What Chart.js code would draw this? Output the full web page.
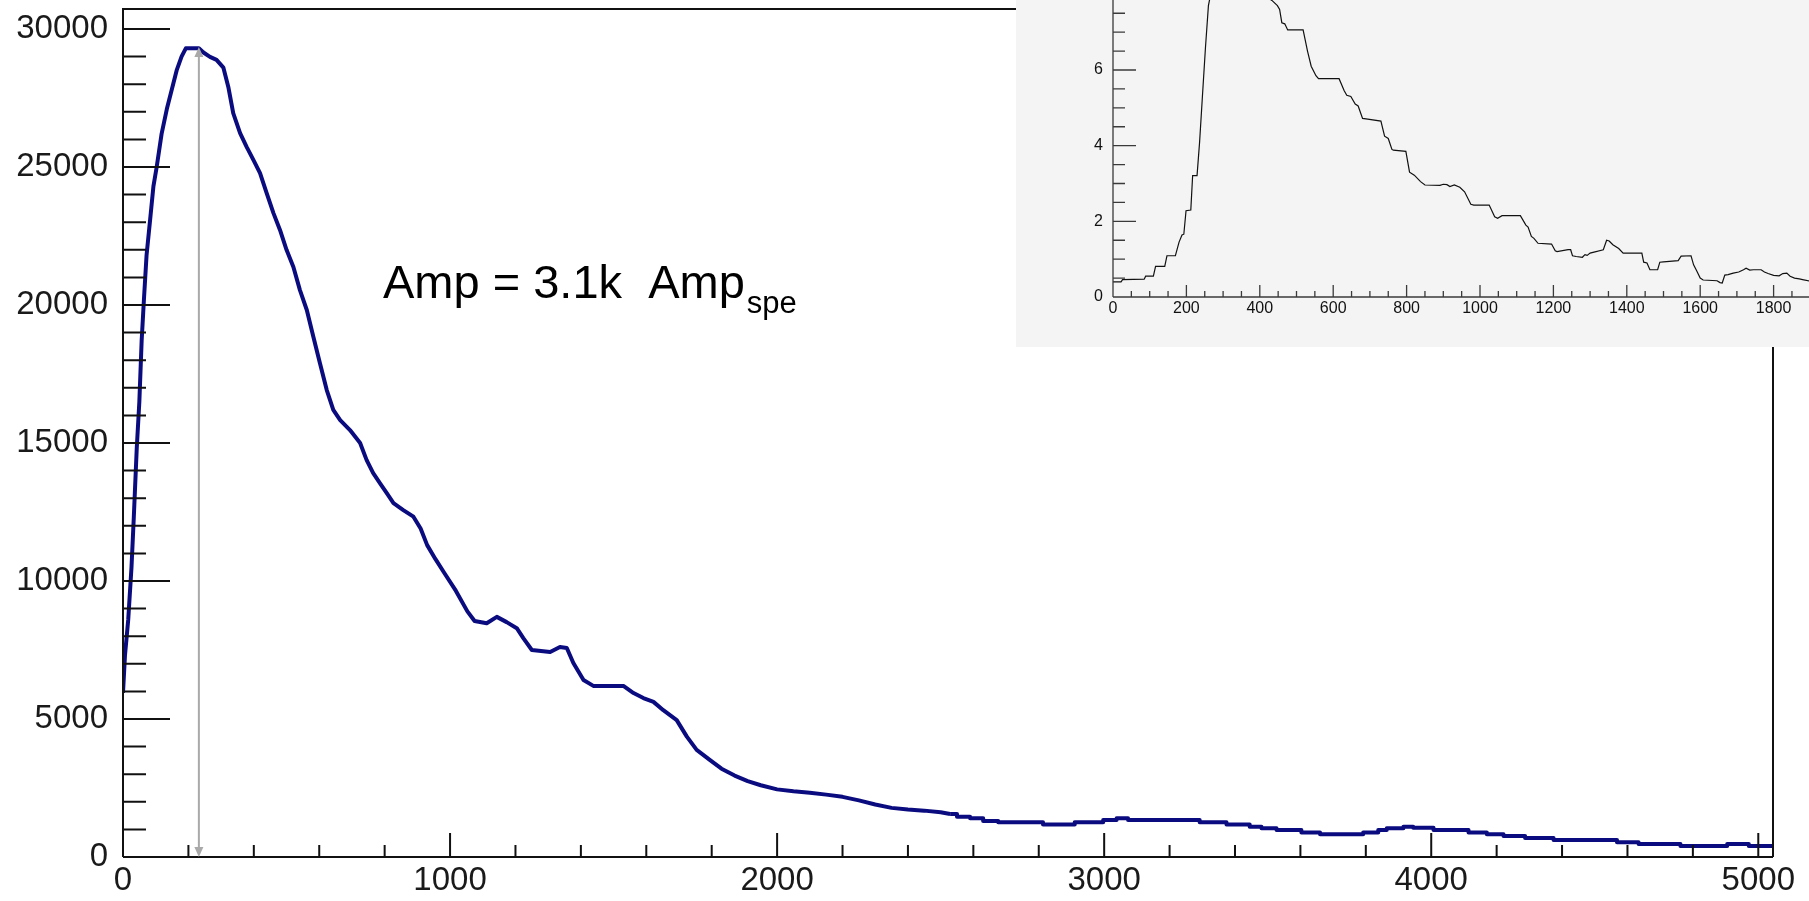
<!DOCTYPE html>
<html>
<head>
<meta charset="utf-8">
<script src="https://cdn.jsdelivr.net/npm/chart.js@4.4.1/dist/chart.umd.min.js"></script>
<style>
html,body{margin:0;padding:0;background:#fff;overflow:hidden;width:1809px;height:901px;}
#main{position:absolute;left:0;top:0;}
#insetBox{position:absolute;left:1016px;top:0;width:793px;height:347px;background:#f4f4f4;overflow:hidden;}
#inset{position:absolute;left:0;top:-40px;}
</style>
</head>
<body>
<canvas id="main" width="1809" height="901"></canvas>
<div id="insetBox"><canvas id="inset" width="851" height="387"></canvas></div>
<script>
// ---------- data: main spectrum (peak region, drawn as a polyline) ----------
const mainPeakX = [0,6,16,26,33,42,50,57,64,72,83,93,103,118,134,149,164,179,192,232,246,266,286,307,322,337,358,378,399,419,439,460,480,500,521,541,562,582,602,623,643,664,694,725,745,765,786,806,827,857,888,910,930,955,982,1018,1053,1075,1112,1143,1173,1204,1224,1250,1306,1336,1357,1377,1408,1438,1530,1561,1591,1622,1652,1693,1724,1754,1795,1830,1870,1910,1950,2000,2050,2100,2150,2200,2250,2300,2350,2400,2450,2500,2529];
const mainPeakY = [5950,7300,8600,10500,12300,14800,16500,18700,20200,21800,23100,24300,25000,26200,27100,27800,28500,29000,29300,29300,29150,28990,28880,28600,27900,26950,26230,25730,25250,24780,24060,23330,22720,22000,21380,20540,19820,18850,17900,16920,16200,15830,15470,15000,14380,13910,13540,13190,12820,12570,12330,11900,11300,10800,10300,9640,8900,8550,8470,8700,8510,8290,7930,7500,7430,7610,7570,7030,6410,6200,6200,5940,5760,5620,5320,4960,4360,3880,3510,3200,2950,2750,2600,2450,2380,2330,2260,2180,2050,1900,1780,1720,1680,1620,1560];
// ---------- data: main spectrum tail (drawn as histogram steps) ----------
const mainTailX = [2529,2550,2590,2630,2676,2813,2910,2997,3038,3073,3292,3374,3445,3481,3527,3603,3660,3792,3838,3864,3915,3945,4007,4114,4170,4221,4287,4374,4568,4634,4762,4905,4971,5045];
const mainTailY = [1560,1460,1400,1300,1260,1180,1260,1340,1400,1340,1260,1180,1100,1040,980,890,820,890,980,1040,1100,1060,980,890,820,760,690,620,530,470,400,470,400,400];
const mainXTicks = [0,1000,2000,3000,4000,5000];
const mainYTicks = [0,5000,10000,15000,20000,25000,30000];
const peakX = 232;
const peakY = 29350;
const annotationMain = 'Amp = 3.1k  Amp';
const annotationSub = 'spe';

// ---------- data: inset waveform ----------
const insetX = [0,22,26,85,89,110,116,141,147,170,180,188,193,199,212,217,229,236,243,252,260,266,300,360,420,433,448,454,460,468,476,518,530,540,553,560,616,630,637,648,660,668,680,694,730,740,750,760,764,798,808,821,838,850,891,900,910,918,930,945,958,975,983,1025,1040,1048,1060,1110,1125,1131,1140,1147,1158,1195,1205,1210,1240,1247,1252,1262,1279,1286,1292,1300,1336,1345,1352,1362,1378,1390,1441,1446,1455,1463,1484,1490,1500,1540,1548,1575,1582,1590,1600,1608,1646,1654,1660,1667,1676,1690,1705,1718,1725,1735,1745,1766,1775,1785,1800,1815,1825,1836,1845,1857,1870,1879,1904,1950,2000];
const insetY = [0.40,0.40,0.46,0.47,0.55,0.55,0.81,0.81,1.09,1.09,1.45,1.64,1.66,2.28,2.30,3.21,3.21,4.10,5.20,6.60,7.70,8.00,8.12,8.05,7.92,7.84,7.70,7.60,7.25,7.22,7.06,7.06,6.50,6.10,5.85,5.77,5.77,5.45,5.33,5.30,5.10,5.05,4.72,4.70,4.65,4.25,4.19,3.90,3.88,3.85,3.30,3.22,3.05,2.96,2.95,2.98,2.97,2.92,2.96,2.90,2.78,2.45,2.43,2.43,2.12,2.08,2.15,2.15,1.90,1.85,1.60,1.55,1.42,1.40,1.22,1.20,1.25,1.25,1.09,1.07,1.05,1.12,1.10,1.16,1.25,1.50,1.48,1.38,1.28,1.16,1.16,0.92,0.90,0.72,0.72,0.92,0.93,0.96,1.08,1.09,0.85,0.70,0.50,0.45,0.43,0.38,0.37,0.58,0.59,0.63,0.66,0.72,0.76,0.71,0.72,0.72,0.66,0.62,0.57,0.56,0.62,0.63,0.55,0.50,0.48,0.46,0.41,0.40,0.40];
const insetXTicks = [0,200,400,600,800,1000,1200,1400,1600,1800,2000];
const insetYTicks = [0,2,4,6,8];

const FONT = "'Liberation Sans', Arial, Helvetica, sans-serif";

function pts(xs, ys){ return xs.map((x,i)=>({x:x, y:ys[i]})); }

// ROOT-like axes: inside ticks with minor ticks + frame
const rootAxes = {
  id: 'rootAxes',
  afterDatasetsDraw(chart, args, o) {
    const ctx = chart.ctx, a = chart.chartArea, xs = chart.scales.x, ys = chart.scales.y;
    ctx.save();
    ctx.strokeStyle = o.color; ctx.lineWidth = o.lineWidth; ctx.lineCap = 'butt';
    ctx.beginPath();
    ctx.moveTo(a.left, a.bottom); ctx.lineTo(a.right, a.bottom);
    ctx.moveTo(a.left, a.bottom); ctx.lineTo(a.left, a.top);
    if (o.frame) { ctx.lineTo(a.right, a.top); ctx.lineTo(a.right, a.bottom); }
    for (let v = 0; v <= ys.max + 1e-9; v += o.yMinor) {
      const p = ys.getPixelForValue(v);
      const major = Math.abs(v / o.yMajor - Math.round(v / o.yMajor)) < 1e-6;
      ctx.moveTo(a.left, p); ctx.lineTo(a.left + (major ? o.yMajorLen : o.yMinorLen), p);
    }
    for (let v = 0; v <= xs.max + 1e-9; v += o.xMinor) {
      const p = xs.getPixelForValue(v);
      const major = Math.abs(v / o.xMajor - Math.round(v / o.xMajor)) < 1e-6;
      ctx.moveTo(p, a.bottom); ctx.lineTo(p, a.bottom - (major ? o.xMajorLen : o.xMinorLen));
    }
    ctx.stroke();
    ctx.restore();
  }
};

const peakArrow = {
  id: 'peakArrow',
  afterDatasetsDraw(chart, args, o) {
    if (!o || !o.show) return;
    const ctx = chart.ctx, xs = chart.scales.x, ys = chart.scales.y;
    const px = xs.getPixelForValue(o.x), top = ys.getPixelForValue(o.y), bot = ys.getPixelForValue(0);
    ctx.save();
    ctx.strokeStyle = o.color; ctx.fillStyle = o.color; ctx.lineWidth = 2;
    ctx.beginPath(); ctx.moveTo(px, top + 8); ctx.lineTo(px, bot - 8); ctx.stroke();
    ctx.beginPath(); ctx.moveTo(px, top); ctx.lineTo(px - 4.5, top + 10); ctx.lineTo(px + 4.5, top + 10); ctx.closePath(); ctx.fill();
    ctx.beginPath(); ctx.moveTo(px, bot); ctx.lineTo(px - 4.5, bot - 10); ctx.lineTo(px + 4.5, bot - 10); ctx.closePath(); ctx.fill();
    ctx.restore();
  }
};

const ampLabel = {
  id: 'ampLabel',
  afterDatasetsDraw(chart, args, o) {
    if (!o || !o.show) return;
    const ctx = chart.ctx, xs = chart.scales.x, ys = chart.scales.y;
    const px = xs.getPixelForValue(o.x), py = ys.getPixelForValue(o.y);
    ctx.save();
    ctx.fillStyle = '#000';
    ctx.textBaseline = 'alphabetic'; ctx.textAlign = 'left';
    ctx.font = '47px ' + FONT;
    ctx.fillText(o.text, px, py);
    const w = ctx.measureText(o.text).width;
    ctx.font = '31px ' + FONT;
    ctx.fillText(o.sub, px + w + 2, py + 15);
    ctx.restore();
  }
};

Chart.register(rootAxes, peakArrow, ampLabel);

const lineStyle = { borderColor: '#0b0b80', borderWidth: 4, pointRadius: 0, fill: false, tension: 0, borderJoinStyle: 'round' };

// ---------- main chart ----------
new Chart(document.getElementById('main'), {
  type: 'line',
  data: { datasets: [
    Object.assign({ data: pts(mainPeakX, mainPeakY), stepped: false }, lineStyle),
    Object.assign({ data: pts(mainTailX, mainTailY), stepped: true }, lineStyle)
  ]},
  options: {
    responsive: false, animation: false, devicePixelRatio: 1,
    layout: { padding: { top: 9, right: 36, left: 0, bottom: 0 } },
    plugins: {
      legend: { display: false }, tooltip: { enabled: false },
      rootAxes: { color: '#111', lineWidth: 2, frame: true,
        yMajor: 5000, yMinor: 1000, yMajorLen: 47, yMinorLen: 23,
        xMajor: 1000, xMinor: 200, xMajorLen: 24, xMinorLen: 12 },
      peakArrow: { show: true, x: peakX, y: peakY, color: '#a9a9a9' },
      ampLabel: { show: true, x: 795, y: 20250, text: annotationMain, sub: annotationSub }
    },
    scales: {
      x: {
        type: 'linear', min: 0, max: 5045,
        afterBuildTicks: s => { s.ticks = mainXTicks.map(v => ({ value: v })); },
        afterFit: s => { s.height = 44; s.paddingLeft = 0; s.paddingRight = 0; },
        grid: { display: false, drawTicks: false }, border: { display: false },
        ticks: { font: { family: FONT, size: 33 }, color: '#1a1a1a', padding: 4, maxRotation: 0, autoSkip: false, callback: v => String(v) }
      },
      y: {
        type: 'linear', min: 0, max: 30725,
        afterBuildTicks: s => { s.ticks = mainYTicks.map(v => ({ value: v })); },
        afterFit: s => { s.width = 123; s.paddingTop = 0; s.paddingBottom = 0; },
        grid: { display: false, drawTicks: false }, border: { display: false },
        ticks: { font: { family: FONT, size: 33 }, color: '#1a1a1a', padding: 15, autoSkip: false, callback: v => String(v) }
      }
    }
  }
});

// ---------- inset chart ----------
new Chart(document.getElementById('inset'), {
  type: 'line',
  data: { datasets: [{
    data: pts(insetX, insetY), stepped: false, borderColor: '#111', borderWidth: 1.2,
    pointRadius: 0, fill: false, tension: 0
  }]},
  options: {
    responsive: false, animation: false, devicePixelRatio: 1,
    layout: { padding: { top: 19.2, right: 20, left: 0, bottom: 0 } },
    plugins: {
      legend: { display: false }, tooltip: { enabled: false },
      rootAxes: { color: '#3a3a3a', lineWidth: 1.3, frame: false,
        yMajor: 2, yMinor: 0.5, yMajorLen: 23, yMinorLen: 12,
        xMajor: 200, xMinor: 50, xMajorLen: 12, xMinorLen: 6 },
      peakArrow: { show: false }, ampLabel: { show: false }
    },
    scales: {
      x: {
        type: 'linear', min: 0, max: 2000,
        afterBuildTicks: s => { s.ticks = insetXTicks.map(v => ({ value: v })); },
        afterFit: s => { s.height = 50; s.paddingLeft = 0; s.paddingRight = 0; },
        grid: { display: false, drawTicks: false }, border: { display: false },
        ticks: { font: { family: FONT, size: 16 }, color: '#111', padding: 2, maxRotation: 0, autoSkip: false, callback: v => String(v) }
      },
      y: {
        type: 'linear', min: 0, max: 8.4,
        afterBuildTicks: s => { s.ticks = insetYTicks.map(v => ({ value: v })); },
        afterFit: s => { s.width = 97; s.paddingTop = 0; s.paddingBottom = 0; },
        grid: { display: false, drawTicks: false }, border: { display: false },
        ticks: { font: { family: FONT, size: 16 }, color: '#111', padding: 10, autoSkip: false, callback: v => String(v) }
      }
    }
  }
});
</script>
</body>
</html>
